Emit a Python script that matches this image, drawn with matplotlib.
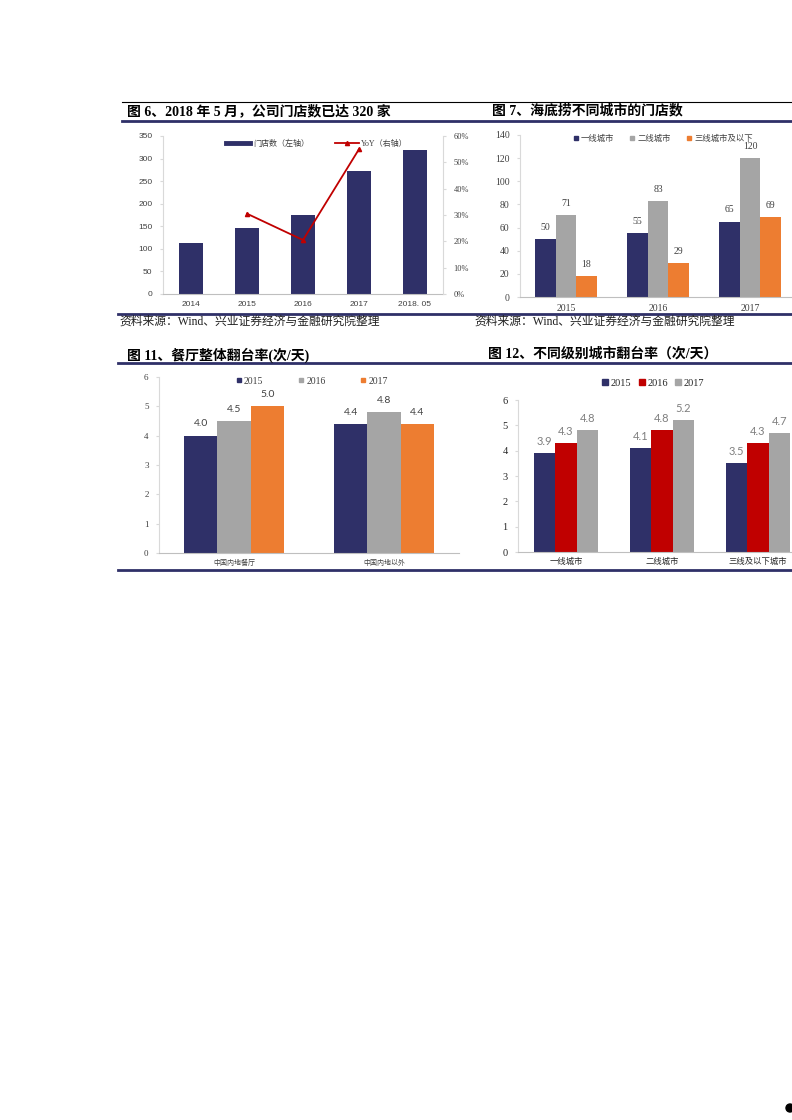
import numpy as np
import matplotlib
matplotlib.use("Agg")
import matplotlib.pyplot as plt
from matplotlib.lines import Line2D
from matplotlib.patches import Ellipse

plt.rcParams['font.family'] = ['Liberation Serif', 'Noto Sans CJK SC', 'DejaVu Sans']

W, H = 792, 1120
NAVY = '#2f3068'
GRAY = '#a5a5a5'
ORANGE = '#ed7d31'
RED = '#c00000'
SERIF_CJK = ['Liberation Serif', 'Noto Sans CJK SC', 'DejaVu Sans']
SANS_CJK = ['Liberation Sans', 'Noto Sans CJK SC', 'DejaVu Sans']

# ---- data ----
# fig 6
years6 = ['2014', '2015', '2016', '2017', '2018. 05']
stores = [112, 147, 176, 273, 320]
yoy_years = ['2015', '2016', '2017']
yoy = [30.5, 20.5, 55.0]

# fig 7
years7 = ['2015', '2016', '2017']
tier_names7 = ['一线城市', '二线城市', '三线城市及以下']
tier1 = [50, 55, 65]
tier2 = [71, 83, 120]
tier3 = [18, 29, 69]

# fig 11
regions11 = ['中国内地餐厅', '中国内地以外']
years11 = ['2015', '2016', '2017']
turn_2015 = [4.0, 4.4]
turn_2016 = [4.5, 4.8]
turn_2017 = [5.0, 4.4]

# fig 12
cities12 = ['一线城市', '二线城市', '三线及以下城市']
years12 = ['2015', '2016', '2017']
city_2015 = [3.9, 4.1, 3.5]
city_2016 = [4.3, 4.8, 4.3]
city_2017 = [4.8, 5.2, 4.7]


fig = plt.figure(figsize=(W / 100, H / 100), dpi=100)


def px_axes(x0, y0, x1, y1):
    return fig.add_axes([x0 / W, 1 - y1 / H, (x1 - x0) / W, (y1 - y0) / H])


def hline(y, x0, x1, color, lw):
    fig.add_artist(Line2D([x0 / W, x1 / W], [1 - y / H, 1 - y / H],
                          color=color, lw=lw, transform=fig.transFigure))


def ftext(x, y, s, **kw):
    fig.text(x / W, 1 - y / H, s, **kw)


def style_axes(ax, spine_col='#d9d9d9', bottom_col='#bfbfbf'):
    ax.spines['top'].set_visible(False)
    ax.spines['right'].set_visible(False)
    ax.spines['left'].set_color(spine_col)
    ax.spines['bottom'].set_color(bottom_col)
    ax.spines['left'].set_linewidth(0.8)
    ax.spines['bottom'].set_linewidth(0.8)
    ax.tick_params(axis='x', length=0)
    ax.tick_params(axis='y', length=2.5, color='#d9d9d9')
    ax.patch.set_visible(False)


def bar_labels(ax, xs, vals, fmt, off, **kw):
    for xx, v in zip(xs, vals):
        ax.annotate(fmt.format(v), (xx, v), xytext=(0, off), textcoords='offset points',
                    ha='center', va='center', **kw)


# page lines
hline(102, 122, 792, 'black', 0.8)
hline(120.5, 122, 792, NAVY, 2)
hline(313.5, 118, 792, NAVY, 2)
hline(363, 118, 792, NAVY, 2)
hline(569.5, 118, 792, NAVY, 2)

# titles
ftext(127, 111, '图 6、2018 年 5 月，公司门店数已达 320 家', fontsize=10, fontweight='bold',
      family=SERIF_CJK, va='center')
ftext(492, 111, '图 7、海底捞不同城市的门店数', fontsize=10, fontweight='bold',
      family=SERIF_CJK, va='center')
ftext(127, 355, '图 11、餐厅整体翻台率(次/天)', fontsize=10, fontweight='bold',
      family=SERIF_CJK, va='center')
ftext(488, 354, '图 12、不同级别城市翻台率（次/天）', fontsize=10, fontweight='bold',
      family=SERIF_CJK, va='center')
ftext(119, 322, '资料来源：Wind、兴业证券经济与金融研究院整理', fontsize=8.5,
      family=SERIF_CJK, va='center', color='#222222')
ftext(474, 322, '资料来源：Wind、兴业证券经济与金融研究院整理', fontsize=8.5,
      family=SERIF_CJK, va='center', color='#222222')

# ---- fig 6 ----
ax = px_axes(163, 136, 443, 294)
x = np.arange(len(years6))
ax.bar(x, stores, width=0.43, color=NAVY)
ax.set_xlim(-0.5, len(years6) - 0.5)
ax.set_ylim(0, 350)
ax.set_yticks(np.arange(0, 351, 50))
ax.set_xticks(x)
ax.set_xticklabels(years6)
style_axes(ax)
ax.tick_params(axis='both', labelsize=6, labelcolor='#404040', pad=5)
for lab in ax.get_xticklabels() + ax.get_yticklabels():
    lab.set_family('Liberation Sans')
ax2 = ax.twinx()
ax2.plot([years6.index(y) for y in yoy_years], yoy, color=RED, lw=1.3,
         marker='^', ms=3)
ax2.set_ylim(0, 60)
ax2.set_yticks(np.arange(0, 61, 10))
ax2.set_yticklabels([f'{v}%' for v in range(0, 61, 10)])
ax2.spines['top'].set_visible(False)
ax2.spines['left'].set_visible(False)
ax2.spines['bottom'].set_visible(False)
ax2.spines['right'].set_color('#d9d9d9')
ax2.tick_params(axis='y', length=2.5, color='#d9d9d9', labelsize=6, labelcolor='#404040', pad=5)
handles = [Line2D([], [], color=NAVY, lw=3.5),
           Line2D([], [], color=RED, lw=1.3, marker='^', ms=3)]
ax.legend(handles, ['门店数（左轴）', 'YoY（右轴）'], loc='center',
          bbox_to_anchor=(0.55, 0.95), ncol=2, frameon=False, fontsize=5.8,
          handlelength=3.0, handletextpad=0.3, columnspacing=3.2, labelcolor='#404040')

# ---- fig 7 ----
ax = px_axes(520, 135, 796, 297)
x = np.arange(len(years7))
bw = 0.222
for i, (vals, col) in enumerate(zip([tier1, tier2, tier3], [NAVY, GRAY, ORANGE])):
    xs = x + (i - 1) * bw
    ax.bar(xs, vals, width=bw, color=col)
    bar_labels(ax, xs, vals, '{}', 8.5, fontsize=7, color='#404040')
ax.set_xlim(-0.5, len(years7) - 0.5)
ax.set_ylim(0, 140)
ax.set_yticks(np.arange(0, 141, 20))
ax.set_xticks(x)
ax.set_xticklabels(years7)
style_axes(ax)
ax.tick_params(axis='both', labelsize=7, labelcolor='#404040', pad=5)
handles = [Line2D([], [], ls='', marker='s', ms=3.5, color=c) for c in [NAVY, GRAY, ORANGE]]
ax.legend(handles, tier_names7, loc='center', bbox_to_anchor=(0.518, 0.975), ncol=3,
          frameon=False, fontsize=6, handlelength=0.6, handletextpad=0.3,
          columnspacing=1.9, labelcolor='#404040')

# ---- fig 11 ----
ax = px_axes(159, 377, 459, 553)
x = np.arange(len(regions11))
for i, (vals, col) in enumerate(zip([turn_2015, turn_2016, turn_2017], [NAVY, GRAY, ORANGE])):
    xs = x + (i - 1) * bw
    ax.bar(xs, vals, width=bw, color=col)
    bar_labels(ax, xs, vals, '{:.1f}', 8.5, fontsize=7.5, color='#404040', family='Lato')
ax.set_xlim(-0.5, len(regions11) - 0.5)
ax.set_ylim(0, 6)
ax.set_yticks(np.arange(0, 7, 1))
ax.set_xticks(x)
ax.set_xticklabels(regions11)
style_axes(ax)
ax.tick_params(axis='y', labelsize=6.5, labelcolor='#404040', pad=5)
ax.tick_params(axis='x', labelsize=5, labelcolor='#404040', pad=4)
handles = [Line2D([], [], ls='', marker='s', ms=3.5, color=c) for c in [NAVY, GRAY, ORANGE]]
ax.legend(handles, years11, loc='center', bbox_to_anchor=(0.51, 0.977), ncol=3,
          frameon=False, fontsize=7, handlelength=0.6, handletextpad=0.2,
          columnspacing=3.6, labelcolor='#404040')

# ---- fig 12 ----
ax = px_axes(518, 400, 806, 552)
x = np.arange(len(cities12))
for i, (vals, col) in enumerate(zip([city_2015, city_2016, city_2017], [NAVY, RED, GRAY])):
    xs = x + (i - 1) * bw
    ax.bar(xs, vals, width=bw, color=col)
    bar_labels(ax, xs, vals, '{:.1f}', 8.5, fontsize=8, color='#7f7f7f', family='Lato')
ax.set_xlim(-0.5, len(cities12) - 0.5)
ax.set_ylim(0, 6)
ax.set_yticks(np.arange(0, 7, 1))
ax.set_xticks(x)
ax.set_xticklabels(cities12)
style_axes(ax)
ax.tick_params(axis='y', labelsize=7.5, labelcolor='#262626', pad=5)
ax.tick_params(axis='x', labelsize=6, labelcolor='#262626', pad=4)
for lab in ax.get_xticklabels():
    lab.set_family(SANS_CJK)
handles = [Line2D([], [], ls='', marker='s', ms=4.5, color=c) for c in [NAVY, RED, GRAY]]
ax.legend(handles, years12, loc='center', bbox_to_anchor=(0.47, 1.11), ncol=3,
          frameon=False, fontsize=7.5, handlelength=0.5, handletextpad=0.3,
          columnspacing=0.7, labelcolor='#262626')

# page corner dot
fig.add_artist(Ellipse((790 / W, 1 - 1108 / H), 8 / W, 8 / H, color='black',
                       transform=fig.transFigure))

fig.savefig('out.png', dpi=100)
